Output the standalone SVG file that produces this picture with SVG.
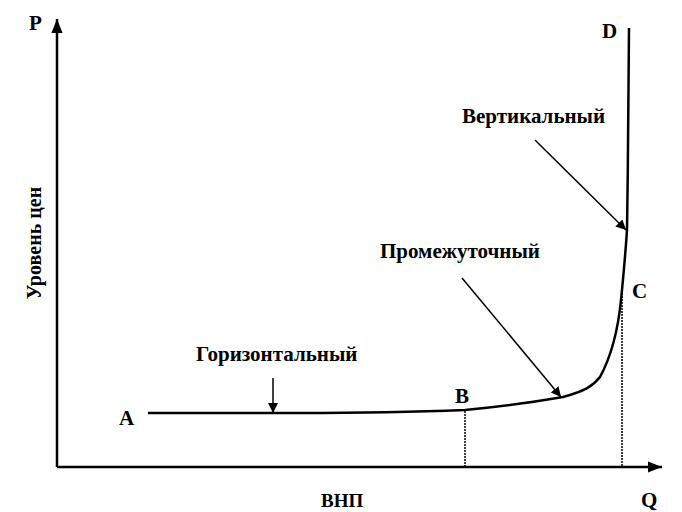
<svg xmlns="http://www.w3.org/2000/svg" width="682" height="512" viewBox="0 0 682 512">
<defs>
<style>
.t{font-family:"Liberation Serif","Times New Roman",serif;font-weight:bold;fill:#000}
.lbl{font-size:21px}
.pt{font-size:21px}
.ax{stroke:#000;stroke-width:2.5;fill:none}
.ln{stroke:#000;stroke-width:1.5;fill:none}
.dot{stroke:#000;stroke-width:1.5;stroke-dasharray:2 1;fill:none}
</style>
<marker id="ah" viewBox="0 0 10 10" refX="10" refY="5" markerWidth="10" markerHeight="10" markerUnits="userSpaceOnUse" orient="auto">
<path d="M0,0 L10,5 L0,10 z" fill="#000"/>
</marker>
<marker id="axh" viewBox="0 0 10 10" refX="10" refY="5" markerWidth="14" markerHeight="14" markerUnits="userSpaceOnUse" orient="auto">
<path d="M0,1 L10,5 L0,9 z" fill="#000"/>
</marker>
</defs>
<rect width="682" height="512" fill="#fff"/>
<g id="axes">
<line class="ax" x1="57" y1="467" x2="57" y2="19" marker-end="url(#axh)"/>
<line class="ax" x1="57" y1="467" x2="662" y2="467" marker-end="url(#axh)"/>
<text class="t pt" x="29" y="30">P</text>
<text class="t pt" x="641" y="507">Q</text>
<text class="t" style="font-size:19px" x="321" y="507">ВНП</text>
<text class="t" style="font-size:20px" transform="translate(41,243) rotate(-90)" text-anchor="middle">Уровень цен</text>
</g>
<g id="curve">
<path d="M148,413 L300,413 C380,413 440,411 465,410 C510,406 540,401 563,397 C585,391 593,386 600,377 C612,355 618,330 621,300 C625,260 627,230 627,230 C628,160 629,80 629,28" stroke="#000" stroke-width="2.5" fill="none"/>
<line class="dot" x1="465" y1="411" x2="465" y2="467"/>
<line class="dot" x1="622" y1="293" x2="622" y2="467"/>
<text class="t pt" x="119" y="425">A</text>
<text class="t pt" x="455" y="403">B</text>
<text class="t pt" x="632" y="298">C</text>
<text class="t pt" x="602" y="38">D</text>
</g>
<g id="connectors">
<line class="ln" x1="273" y1="378" x2="273" y2="413" marker-end="url(#ah)"/>
<line class="ln" x1="462" y1="278" x2="561" y2="397" marker-end="url(#ah)"/>
<line class="ln" x1="535" y1="140" x2="626" y2="230" marker-end="url(#ah)"/>
</g>
<g id="labels">
<text class="t lbl" x="196" y="361">Горизонтальный</text>
<text class="t lbl" x="380" y="258">Промежуточный</text>
<text class="t lbl" x="462" y="123">Вертикальный</text>
</g>
</svg>
